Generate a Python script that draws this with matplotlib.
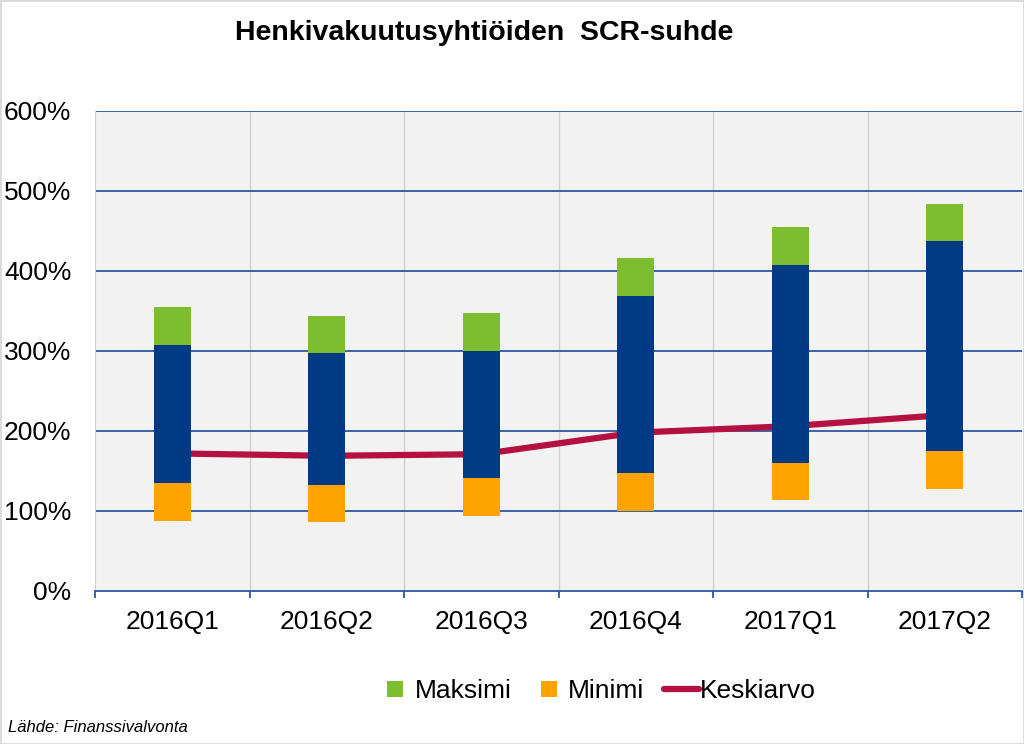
import matplotlib
matplotlib.use("Agg")
import matplotlib.pyplot as plt
from matplotlib.patches import Rectangle, Patch
from matplotlib.lines import Line2D
from matplotlib.legend_handler import HandlerPatch
from matplotlib.ticker import FixedLocator, FuncFormatter
import numpy as np

plt.rcParams['font.family'] = ['Liberation Sans', 'DejaVu Sans']

categories = ['2016Q1', '2016Q2', '2016Q3', '2016Q4', '2017Q1', '2017Q2']
minimi = [88, 86, 94, 100, 114, 128]          # bottom of orange segment
minimi_top = [135, 132, 141, 147, 160, 175]   # top of orange segment
maksimi_bottom = [308, 298, 300, 369, 408, 438]  # bottom of green segment
maksimi = [355, 344, 347, 416, 455, 484]      # top of green segment
keskiarvo = [172, 169, 171, 198, 206, 220]

c_green = '#7DBE31'
c_orange = '#FFA300'
c_blue = '#003A84'
c_line = '#B51042'
c_grid = '#2C55A0'

fig = plt.figure(figsize=(10.24, 7.44), dpi=100)
ax = fig.add_axes([95/1024, 153/744, 927/1024, 480/744])
ax.set_facecolor('#F2F2F2')

x = np.arange(len(categories))
w = 0.24
mn = np.array(minimi); mnt = np.array(minimi_top)
mxb = np.array(maksimi_bottom); mx = np.array(maksimi)
ax.bar(x, mnt - mn, bottom=mn, width=w, color=c_orange, zorder=4, linewidth=0)
ax.bar(x, mxb - mnt, bottom=mnt, width=w, color=c_blue, zorder=4, linewidth=0)
ax.bar(x, mx - mxb, bottom=mxb, width=w, color=c_green, zorder=4, linewidth=0)
ax.plot(x, keskiarvo, color=c_line, lw=4.5, zorder=3, solid_capstyle='butt')

ax.set_xlim(-0.5, len(categories) - 0.5)
ax.set_ylim(0, 600)

for v in range(100, 601, 100):
    ax.axhline(v, color=c_grid, lw=1.3, zorder=2)
for b in np.arange(0.5, len(categories) - 0.5, 1):
    ax.axvline(b, color='#D0D0D0', lw=1.0, zorder=1)

for s in ['top', 'right']:
    ax.spines[s].set_visible(False)
ax.spines['left'].set_color('#D0D0D0')
ax.spines['bottom'].set_color(c_grid)
ax.spines['bottom'].set_linewidth(1.3)
ax.spines['bottom'].set_zorder(5)

ax.yaxis.set_major_locator(FixedLocator(range(0, 601, 100)))
ax.yaxis.set_major_formatter(FuncFormatter(lambda v, p: f"{int(v)}%"))
ax.tick_params(axis='y', length=0, pad=17, labelsize=19, labelcolor='black')

ax.set_xticks(x)
ax.set_xticklabels(categories)
ax.set_xticks(np.arange(-0.5, len(categories), 1), minor=True)
ax.tick_params(axis='x', which='major', length=0, pad=14, labelsize=19)
ax.tick_params(axis='x', which='minor', length=5, width=1.3, color=c_grid, direction='out')

fig.text(484/1024, 1 - 33/744, 'Henkivakuutusyhtiöiden  SCR-suhde', ha='center', va='center',
         fontsize=20.5, fontweight='bold')


class SquareHandler(HandlerPatch):
    def create_artists(self, legend, orig_handle, xdescent, ydescent, width, height,
                       fontsize, trans):
        s = 11.5  # points (~16 px)
        gap = 7.0
        x0 = -xdescent + width - gap - s
        y0 = -ydescent + height / 2 - s / 2
        p = Rectangle((x0, y0), s, s, facecolor=orig_handle.get_facecolor(),
                      edgecolor='none', transform=trans)
        return [p]


handles = [Patch(color=c_green, label='Maksimi'),
           Patch(color=c_orange, label='Minimi'),
           Line2D([0], [0], color=c_line, lw=4.5, label='Keskiarvo', solid_capstyle='round')]
fig.legend(handles=handles, loc='center', bbox_to_anchor=(597/1024, 1 - 691/744), ncol=3,
           frameon=False, fontsize=19, handlelength=1.33, handleheight=0.7,
           handletextpad=0.05, columnspacing=0.75,
           handler_map={Patch: SquareHandler()})

fig.text(8/1024, 1 - 727/744, 'Lähde: Finanssivalvonta', ha='left', va='center',
         fontsize=12, style='italic')

fig.add_artist(Rectangle((0, 0), 1, 1, transform=fig.transFigure, fill=False,
                         edgecolor='#D9D9D9', lw=2))

fig.savefig('out.png', dpi=100)
